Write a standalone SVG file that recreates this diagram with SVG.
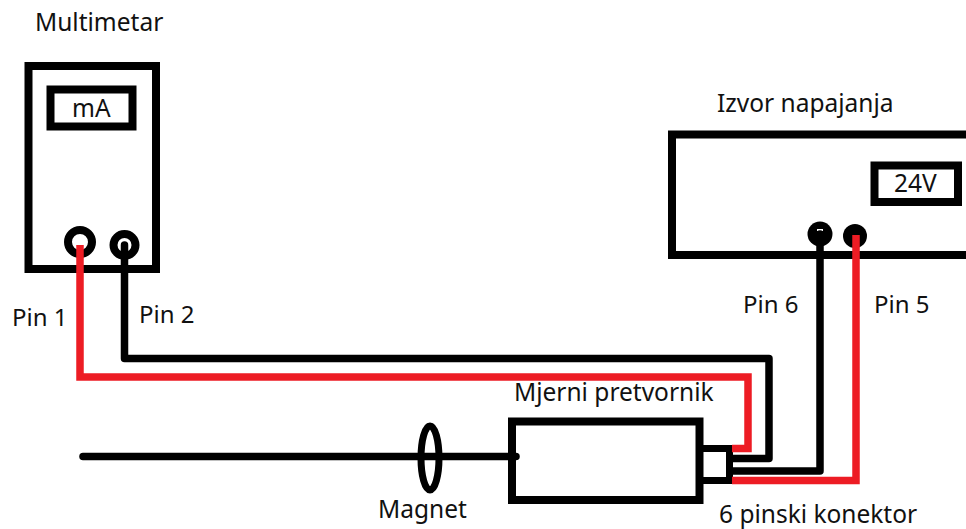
<svg xmlns="http://www.w3.org/2000/svg" width="966" height="529" viewBox="0 0 966 529">
<style>
.b{fill:none;stroke:#000;stroke-width:8}
.w{fill:none;stroke:#000;stroke-width:7.5;stroke-linecap:round;stroke-linejoin:round}
.r{fill:none;stroke:#ed1c24;stroke-width:7.5;stroke-linejoin:miter}
text{font-family:"Noto Sans","Open Sans",sans-serif;font-size:24.5px;fill:#111}
.s{font-size:24px}
</style>
<rect width="966" height="529" fill="#fff"/>
<g id="multimetar">
<rect class="b" x="28.500" y="66" width="127.500" height="203"/>
<rect class="b" x="50.500" y="89.500" width="82" height="37"/>
<circle class="b" cx="80" cy="242" r="12"/>
<circle class="b" cx="124.500" cy="245" r="11"/>
<text x="35" y="31">Multimetar</text>
<text x="72" y="117">mA</text>
</g>
<g id="izvor-napajanja">
<path class="b" d="M970 134.500H672V255H970"/>
<rect class="b" x="874.500" y="165.500" width="83.500" height="36.500"/>
<circle cx="820" cy="234" r="12.500" fill="#000"/>
<rect x="817" y="229" width="6" height="2" fill="#fff"/>
<circle cx="855" cy="236" r="12" fill="#000"/>
<text x="717" y="112">Izvor napajanja</text>
<text x="894" y="192">24V</text>
</g>
<g id="mjerni-pretvornik">
<rect class="b" x="512" y="421.500" width="187.500" height="78.500"/>
<text x="514" y="401">Mjerni pretvornik</text>
</g>
<g id="konektor">
<rect x="699.500" y="448.500" width="30" height="32" fill="none" stroke="#000" stroke-width="7"/>
<text x="719" y="523">6 pinski konektor</text>
</g>
<g id="magnet">
<ellipse cx="430" cy="458" rx="9" ry="32" fill="none" stroke="#000" stroke-width="7"/>
<text x="378" y="518">Magnet</text>
</g>
<g id="connectors">
<path class="w" d="M83 456.500H516"/>
<path class="w" d="M124.500 245V358.500H769V458.500H733"/>
<path class="w" d="M820 234V471H733"/>
<path class="r" d="M80 245V377H748V448.500H732"/>
<path class="r" d="M856 235V480.500H732"/>
</g>
<g id="labels">
<text class="s" x="12" y="326">Pin 1</text>
<text class="s" x="139" y="323">Pin 2</text>
<text class="s" x="743" y="313">Pin 6</text>
<text class="s" x="874" y="313">Pin 5</text>
</g>
</svg>
